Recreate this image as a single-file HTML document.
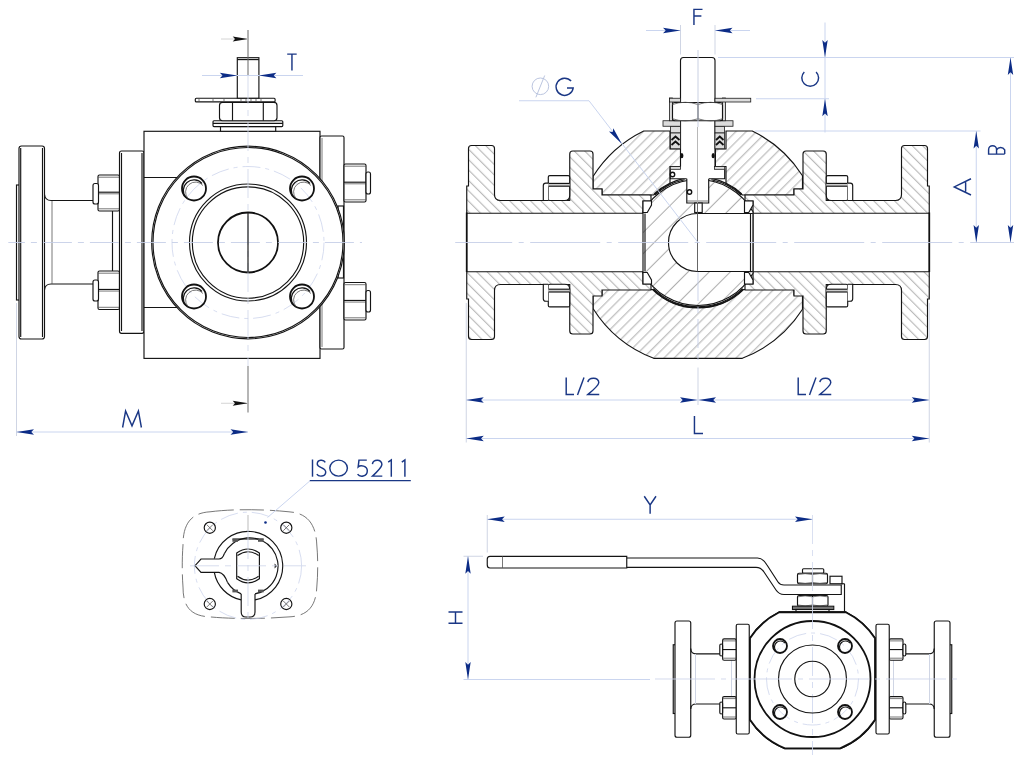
<!DOCTYPE html>
<html><head><meta charset="utf-8"><title>Valve drawing</title><style>
html,body{margin:0;padding:0;background:#fff;width:1024px;height:761px;overflow:hidden;font-family:"Liberation Sans",sans-serif}
svg{display:block}

.k{fill:none;stroke:#141414;stroke-width:1.15}
.kt{fill:none;stroke:#111;stroke-width:1.8}
.kw{fill:#fff;stroke:#141414;stroke-width:1.15}
.g{fill:none;stroke:#555;stroke-width:0.8}
.dim{fill:none;stroke:#cad5ef;stroke-width:1}
.ext{fill:none;stroke:#cfd5e4;stroke-width:1}
.cl{fill:none;stroke:#c3cce6;stroke-width:0.85;stroke-dasharray:29 6 6 6}
.clk{fill:none;stroke:#999;stroke-width:0.8;stroke-dasharray:22 4 4 4}
.bc{fill:none;stroke:#c5cfea;stroke-width:0.7;stroke-dasharray:18 5 4 5}
.ar{fill:#0c2c86;stroke:none}
.tx{fill:none;stroke:#1a3785;stroke-width:1.45;stroke-linecap:butt;stroke-linejoin:miter}
.h1{fill:url(#hA);stroke:#141414;stroke-width:1.15}
.h2{fill:url(#hB);stroke:#141414;stroke-width:1.15}
.h3{fill:url(#hC);stroke:#141414;stroke-width:1.15}
.h4{fill:url(#hD);stroke:#1a1a1a;stroke-width:0.8}

</style></head><body>
<svg width="1024" height="761" viewBox="0 0 1024 761"><defs>
<pattern id="hA" width="20" height="7.283" patternUnits="userSpaceOnUse" patternTransform="rotate(-45)"><rect width="20" height="7.283" fill="#fff"/><line x1="0" y1="1.676" x2="20" y2="1.676" stroke="#8e8e8e" stroke-width="0.75"/></pattern>
<pattern id="hB" width="20" height="7.354" patternUnits="userSpaceOnUse" patternTransform="rotate(45)"><rect width="20" height="7.354" fill="#fff"/><line x1="0" y1="2.12" x2="20" y2="2.12" stroke="#8e8e8e" stroke-width="0.75"/></pattern>
<pattern id="hC" width="20" height="14.92" patternUnits="userSpaceOnUse" patternTransform="rotate(-45)"><rect width="20" height="14.92" fill="#fff"/><line x1="0" y1="7.42" x2="20" y2="7.42" stroke="#8e8e8e" stroke-width="0.75"/></pattern>
<pattern id="hD" width="10" height="2" patternUnits="userSpaceOnUse" patternTransform="rotate(-45)"><rect width="10" height="2" fill="#fff"/><line x1="0" y1="1" x2="10" y2="1" stroke="#999" stroke-width="0.7"/></pattern>
</defs>
<rect class="k" x="16.5" y="185" width="3" height="115"/>
<rect class="kw" x="19" y="146" width="25.5" height="193" rx="2.5"/>
<line class="k" x1="20.7" y1="148" x2="20.7" y2="337"/>
<line class="k" x1="42.5" y1="148" x2="42.5" y2="337"/>
<path class="k" d="M44.5 194.5 Q45 200.5 51 200.5 L95 200.5"/>
<path class="k" d="M44.5 290 Q45 284 51 284 L95 284"/>
<line class="g" x1="52" y1="201" x2="52" y2="284"/>
<line class="k" x1="112.5" y1="211" x2="112.5" y2="271"/>
<rect class="kw" x="98" y="175" width="21.5" height="36" rx="1.5"/>
<line class="g" x1="98" y1="177.2" x2="119.5" y2="177.2"/>
<line class="k" x1="98" y1="192.2" x2="119.5" y2="192.2"/>
<line class="g" x1="98" y1="193.8" x2="119.5" y2="193.8"/>
<line class="g" x1="98" y1="208.8" x2="119.5" y2="208.8"/>
<rect class="kw" x="93" y="183.5" width="5.5" height="20.5" rx="2"/>
<rect class="kw" x="98" y="271" width="21.5" height="38.5" rx="1.5"/>
<line class="g" x1="98" y1="273.2" x2="119.5" y2="273.2"/>
<line class="k" x1="98" y1="289.45" x2="119.5" y2="289.45"/>
<line class="g" x1="98" y1="291.05" x2="119.5" y2="291.05"/>
<line class="g" x1="98" y1="307.3" x2="119.5" y2="307.3"/>
<rect class="kw" x="93" y="280" width="5.5" height="21" rx="2"/>
<rect class="kw" x="119.5" y="151" width="24.5" height="182.3" rx="2"/>
<line class="k" x1="121.5" y1="153" x2="121.5" y2="331"/>
<line class="k" x1="142" y1="153" x2="142" y2="331"/>
<rect class="kw" x="144" y="131.3" width="176" height="227.1"/>
<line class="k" x1="144" y1="177.5" x2="180" y2="177.5"/>
<line class="k" x1="144" y1="307.5" x2="180" y2="307.5"/>
<rect class="kw" x="320" y="136" width="24" height="213" rx="1.5"/>
<line class="g" x1="322" y1="138" x2="322" y2="347"/>
<rect class="k" x="338" y="206" width="5.5" height="72"/>
<rect class="kw" x="344" y="164" width="22" height="38" rx="1.5"/>
<line class="g" x1="344" y1="166.2" x2="366" y2="166.2"/>
<line class="k" x1="344" y1="182.2" x2="366" y2="182.2"/>
<line class="g" x1="344" y1="183.8" x2="366" y2="183.8"/>
<line class="g" x1="344" y1="199.8" x2="366" y2="199.8"/>
<rect class="kw" x="366" y="172" width="4.5" height="22" rx="2"/>
<rect class="kw" x="344" y="282.5" width="22" height="37.5" rx="1.5"/>
<line class="g" x1="344" y1="284.7" x2="366" y2="284.7"/>
<line class="k" x1="344" y1="300.45" x2="366" y2="300.45"/>
<line class="g" x1="344" y1="302.05" x2="366" y2="302.05"/>
<line class="g" x1="344" y1="317.8" x2="366" y2="317.8"/>
<rect class="kw" x="366" y="290.5" width="4.5" height="21.5" rx="2"/>
<circle class="kw" cx="248" cy="242.5" r="96.3"/>
<circle class="k" cx="248" cy="242.5" r="95"/>
<circle class="bc" cx="248" cy="242.5" r="76"/>
<circle class="k" cx="248" cy="242.5" r="58.5"/>
<circle class="k" cx="248" cy="242.5" r="55.7"/>
<circle class="kt" cx="248" cy="242.5" r="30"/>
<circle class="kt" cx="194" cy="188.5" r="12"/>
<path class="k" d="M186 197.5 A9 9 0 0 1 202 183.5"/>
<path class="g" d="M188 198.5 A8 8 0 0 1 203 185.5"/>
<circle class="kt" cx="194" cy="296.5" r="12"/>
<path class="k" d="M186 305.5 A9 9 0 0 1 202 291.5"/>
<path class="g" d="M188 306.5 A8 8 0 0 1 203 293.5"/>
<circle class="kt" cx="302" cy="188.5" r="12"/>
<path class="k" d="M294 197.5 A9 9 0 0 1 310 183.5"/>
<path class="g" d="M296 198.5 A8 8 0 0 1 311 185.5"/>
<circle class="kt" cx="302" cy="296.5" r="12"/>
<path class="k" d="M294 305.5 A9 9 0 0 1 310 291.5"/>
<path class="g" d="M296 306.5 A8 8 0 0 1 311 293.5"/>
<rect class="kw" x="220.5" y="126.5" width="55.2" height="4.8"/>
<rect class="kw" x="213" y="120.7" width="69.8" height="5.9" rx="1"/>
<line class="k" x1="213" y1="123.4" x2="282.8" y2="123.4"/>
<rect class="kw" x="219.5" y="102.4" width="57.5" height="18.3" rx="3"/>
<line class="k" x1="232.5" y1="102.4" x2="232.5" y2="120.7"/>
<line class="k" x1="263.3" y1="102.4" x2="263.3" y2="120.7"/>
<rect class="kw" x="195.3" y="98.2" width="79.8" height="3.7" rx="1"/>
<line class="g" x1="199" y1="98.5" x2="199" y2="101.6"/>
<line class="g" x1="213" y1="98.5" x2="213" y2="101.6"/>
<line class="g" x1="224" y1="98.5" x2="224" y2="101.6"/>
<line class="g" x1="241" y1="98.5" x2="241" y2="101.6"/>
<line class="g" x1="246" y1="98.5" x2="246" y2="101.6"/>
<line class="g" x1="251" y1="98.5" x2="251" y2="101.6"/>
<line class="g" x1="256" y1="98.5" x2="256" y2="101.6"/>
<line class="g" x1="261" y1="98.5" x2="261" y2="101.6"/>
<rect class="kw" x="237.3" y="57.7" width="21.6" height="40.5"/>
<line class="k" x1="237.3" y1="59.6" x2="258.9" y2="59.6"/>
<path class="h1" d="M593 189 L593 176.54 A124 124 0 0 1 643.74 131 L670 131 L670 149 L680.6 149 L680.6 166.5 L670 166.5 L670 183.8 A65 65 0 0 0 653.6 195 L602 195 L602 189 Z"/>
<path class="h1" d="M726 131 L752.26 131 A124 124 0 0 1 802.5 175.75 L802.5 189 L794 189 L794 195 L742.4 195 A65 65 0 0 0 726 183.8 L726 166.5 L715.4 166.5 L715.4 149 L726 149 Z"/>
<path class="h1" d="M593 295 L602 295 L602 289.5 L653.1 289.5 A65 65 0 0 0 742.9 289.5 L794 289.5 L794 295 L802.5 295 L802.5 309.25 A124 124 0 0 1 742.3 358.3 L653.7 358.3 A124 124 0 0 1 593 308.5 Z"/>
<path class="h2" d="M466.75 213.25 L466.75 186 L468.5 186 L468.5 148.5 Q468.5 145.5 471.5 145.5 L491.5 145.5 Q494.5 145.5 494.5 148.5 L494.5 194.5 Q494.5 200.5 500.5 200.5 L569.75 200.5 L569.75 154 Q569.75 151 572.75 151 L590 151 Q593 151 593 154 L593 189 L602 189 L602 195 L651 195 L651 201 L643 201 L643 213.25 Z"/>
<path class="h2" d="M 466.75 271.75 L 466.75 299 L 468.5 299 L 468.5 336.5 Q 468.5 339.5 471.5 339.5 L 491.5 339.5 Q 494.5 339.5 494.5 336.5 L 494.5 290.5 Q 494.5 284.5 500.5 284.5 L 569.75 284.5 L 569.75 331 Q 569.75 334 572.75 334 L 590 334 Q 593 334 593 331 L 593 296 L 602 296 L 602 290 L 651 290 L 651 284 L 643 284 L 643 271.75 Z"/>
<path class="h2" d="M 929.25 213.25 L 929.25 186 L 927.5 186 L 927.5 148.5 Q 927.5 145.5 924.5 145.5 L 904.5 145.5 Q 901.5 145.5 901.5 148.5 L 901.5 194.5 Q 901.5 200.5 895.5 200.5 L 826.25 200.5 L 826.25 154 Q 826.25 151 823.25 151 L 806 151 Q 803 151 803 154 L 803 189 L 794 189 L 794 195 L 745 195 L 745 201 L 753 201 L 753 213.25 Z"/>
<path class="h2" d="M 929.25 271.75 L 929.25 299 L 927.5 299 L 927.5 336.5 Q 927.5 339.5 924.5 339.5 L 904.5 339.5 Q 901.5 339.5 901.5 336.5 L 901.5 290.5 Q 901.5 284.5 895.5 284.5 L 826.25 284.5 L 826.25 331 Q 826.25 334 823.25 334 L 806 334 Q 803 334 803 331 L 803 296 L 794 296 L 794 290 L 745 290 L 745 284 L 753 284 L 753 271.75 Z"/>
<line class="kt" x1="466.75" y1="212.5" x2="466.75" y2="272"/>
<line class="kt" x1="929.25" y1="212.5" x2="929.25" y2="272"/>
<path class="kw" d="M549.8 175.6 L568.2 175.6 Q569.7 175.6 569.7 177.1 L569.7 195.5 Q569.7 200.5 564.7 200.5 L549.8 200.5 Q548.3 200.5 548.3 199 L548.3 177.1 Q548.3 175.6 549.8 175.6 Z"/>
<rect x="548.3" y="183.4" width="21.4" height="2.8" fill="#ccc"/>
<line class="k" x1="548.3" y1="183.4" x2="569.7" y2="183.4"/>
<line class="k" x1="548.3" y1="186.2" x2="569.7" y2="186.2"/>
<path class="kw" d="M548.3 200.5 L543.3 200.5 L543.3 185.6 Q543.3 183.1 545.8 183.1 L548.3 183.1"/>
<path class="kw" d="M549.8 284.2 L564.7 284.2 Q569.7 284.2 569.7 289.2 L569.7 305.4 Q569.7 306.9 568.2 306.9 L549.8 306.9 Q548.3 306.9 548.3 305.4 L548.3 285.7 Q548.3 284.2 549.8 284.2 Z"/>
<rect x="548.3" y="289.2" width="21.4" height="2.8" fill="#ccc"/>
<line class="k" x1="548.3" y1="289.2" x2="569.7" y2="289.2"/>
<line class="k" x1="548.3" y1="292" x2="569.7" y2="292"/>
<path class="kw" d="M548.3 284.2 L543.3 284.2 L543.3 298.7 Q543.3 301.2 545.8 301.2 L548.3 301.2"/>
<path class="kw" d="M827.8 175.6 L846.2 175.6 Q847.7 175.6 847.7 177.1 L847.7 199 Q847.7 200.5 846.2 200.5 L831.3 200.5 Q826.3 200.5 826.3 195.5 L826.3 177.1 Q826.3 175.6 827.8 175.6 Z"/>
<rect x="826.3" y="183.4" width="21.4" height="2.8" fill="#ccc"/>
<line class="k" x1="826.3" y1="183.4" x2="847.7" y2="183.4"/>
<line class="k" x1="826.3" y1="186.2" x2="847.7" y2="186.2"/>
<path class="kw" d="M847.7 200.5 L852.7 200.5 L852.7 185.6 Q852.7 183.1 850.2 183.1 L847.7 183.1"/>
<path class="kw" d="M831.3 284.2 L846.2 284.2 Q847.7 284.2 847.7 285.7 L847.7 305.4 Q847.7 306.9 846.2 306.9 L827.8 306.9 Q826.3 306.9 826.3 305.4 L826.3 289.2 Q826.3 284.2 831.3 284.2 Z"/>
<rect x="826.3" y="289.2" width="21.4" height="2.8" fill="#ccc"/>
<line class="k" x1="826.3" y1="289.2" x2="847.7" y2="289.2"/>
<line class="k" x1="826.3" y1="292" x2="847.7" y2="292"/>
<path class="kw" d="M847.7 284.2 L852.7 284.2 L852.7 298.7 Q852.7 301.2 850.2 301.2 L847.7 301.2"/>
<path class="h3" d="M643 211.8 A63 63 0 0 1 753 211.8 L753 273.2 A63 63 0 0 1 643 273.2 Z"/>
<path class="kw" d="M753 213.5 L697.5 213.5 A29 29 0 0 0 697.5 271.5 L753 271.5 Z"/>
<line class="g" x1="753" y1="213.5" x2="753" y2="271.5"/>
<path class="k" d="M655.04 194.79 A64.2 64.2 0 0 1 684.65 179.7"/>
<path class="k" d="M711.35 179.7 A64.2 64.2 0 0 1 740.96 194.79"/>
<path class="k" d="M742.6 288.68 A64.2 64.2 0 0 1 653.4 288.68"/>
<path class="k" d="M654.17 193.82 A65.5 65.5 0 0 1 684.38 178.43"/>
<path class="k" d="M711.62 178.43 A65.5 65.5 0 0 1 741.83 193.82"/>
<path class="k" d="M743.5 289.62 A65.5 65.5 0 0 1 652.5 289.62"/>
<path class="kw" d="M643 201 L651.5 201 L651.5 205 L647.25 212.5 L643 212.5 Z"/>
<path class="kw" d="M643 284 L651.5 284 L651.5 280 L647.25 272.5 L643 272.5 Z"/>
<path class="kw" d="M744.5 201 L753 201 L753 205 L748.75 212.5 L744.5 212.5 Z"/>
<path class="kw" d="M744.5 284 L753 284 L753 280 L748.75 272.5 L744.5 272.5 Z"/>
<line class="k" x1="645" y1="213.5" x2="645" y2="271.5"/>
<line class="k" x1="750.5" y1="213.5" x2="750.5" y2="271.5"/>
<rect x="680.5" y="57.5" width="34.5" height="112" rx="3" fill="#fff"/>
<path class="k" d="M680.5 166.5 L680.5 60.5 Q680.5 57.5 683.5 57.5 L712 57.5 Q715 57.5 715 60.5 L715 166.5"/>
<rect x="670.3" y="169.3" width="54.4" height="9.45" fill="#fff"/>
<path class="k" d="M670.3 169.3 L670.3 178.75 L686.8 178.75 M708.7 178.75 L724.7 178.75 L724.7 169.3"/>
<rect class="h4" x="670.3" y="166.5" width="10.2" height="2.8"/>
<rect class="h4" x="714.5" y="166.5" width="10.2" height="2.8"/>
<rect x="686.8" y="177" width="21.9" height="26" fill="#fff"/>
<path class="k" d="M686.8 178.75 L686.8 203 L708.7 203 L708.7 178.75"/>
<rect class="kw" x="694.7" y="203" width="7.5" height="9.5"/>
<line class="g" x1="687.2" y1="201" x2="708.75" y2="201"/>
<rect class="h4" x="670.5" y="126.25" width="10" height="6.75"/>
<rect class="h4" x="670.5" y="133" width="10" height="15.75"/>
<path class="kt" d="M671.5 140.0 L675.5 136.5 L679.5 140.0"/>
<path class="kt" d="M671.5 145.0 L675.5 141.5 L679.5 145.0"/>
<rect class="h4" x="715" y="126.25" width="9.5" height="6.75"/>
<rect class="h4" x="715" y="133" width="9.5" height="15.75"/>
<path class="kt" d="M716 140.0 L719.75 136.5 L723.5 140.0"/>
<path class="kt" d="M716 145.0 L719.75 141.5 L723.5 145.0"/>
<rect class="h4" x="663" y="120.75" width="17.5" height="5.5"/>
<rect class="h4" x="715" y="120.75" width="18" height="5.5"/>
<rect class="h4" x="669.5" y="98" width="3" height="22.75"/>
<rect class="h4" x="722.5" y="98" width="3" height="22.75"/>
<path class="kw" d="M672.5 104.5 Q672.5 102.5 675 102.5 L720 102.5 Q722.5 102.5 722.5 104.5 L722.5 118.75 Q722.5 120.75 720 120.75 L675 120.75 Q672.5 120.75 672.5 118.75 Z"/>
<path class="g" d="M672.5 104.5 Q685 100 698 104.5 Q711 100 722.5 104.5"/>
<path class="g" d="M672.5 118.75 Q685 123 698 118.75 Q711 123 722.5 118.75"/>
<line class="k" x1="698" y1="102.5" x2="698" y2="120.75"/>
<rect class="h4" x="715" y="98.25" width="35.75" height="3.75"/>
<rect class="h4" x="669.5" y="98.25" width="11" height="3.75"/>
<ellipse cx="681.8" cy="155.7" rx="1.6" ry="2.6" fill="#111"/>
<ellipse cx="713.2" cy="155.7" rx="1.6" ry="2.6" fill="#111"/>
<circle cx="672.5" cy="174.5" r="2.2" fill="#fff" stroke="#111" stroke-width="1.4"/>
<circle cx="689.5" cy="192" r="2.2" fill="#fff" stroke="#111" stroke-width="1.4"/>
<line x1="698" y1="50" x2="698" y2="127" stroke="#c9d0e2" stroke-width="1"/>
<line x1="697.5" y1="127" x2="697.5" y2="203" stroke="#b0b0b0" stroke-width="0.9"/>
<line x1="697.5" y1="203" x2="697.5" y2="271.5" stroke="#555" stroke-width="0.9"/>
<line class="cl" x1="698" y1="272" x2="698" y2="366"/>
<path class="g" d="M210 511.8 C232 509 262 509 289 511.8 C308 513 316 525 316.8 545 C318 558 318 574 316.8 587 C316 606 308 616 289 616.9 C262 619 232 619 210 616.9 C190 616 183 606 183 587 C182 574 182 558 183 545 C183 525 190 513 210 511.8 Z" stroke-dasharray="24 6" stroke="#777" stroke-width="0.65"/>
<circle class="bc" cx="248" cy="565.8" r="53.6"/>
<circle class="k" cx="209.8" cy="527.7" r="5.6"/>
<line class="g" x1="206.8" y1="524.7" x2="212.8" y2="530.7"/>
<line class="g" x1="206.8" y1="530.7" x2="212.8" y2="524.7"/>
<circle class="k" cx="286.3" cy="527.7" r="5.6"/>
<line class="g" x1="283.3" y1="524.7" x2="289.3" y2="530.7"/>
<line class="g" x1="283.3" y1="530.7" x2="289.3" y2="524.7"/>
<circle class="k" cx="209.8" cy="604" r="5.6"/>
<line class="g" x1="206.8" y1="601" x2="212.8" y2="607"/>
<line class="g" x1="206.8" y1="607" x2="212.8" y2="601"/>
<circle class="k" cx="286.3" cy="604" r="5.6"/>
<line class="g" x1="283.3" y1="601" x2="289.3" y2="607"/>
<line class="g" x1="283.3" y1="607" x2="289.3" y2="601"/>
<circle cx="248" cy="565.6" r="34.6" fill="#fff"/>
<path class="k" d="M214.3 558.7 A34.6 34.6 0 1 1 255 599.9"/>
<path class="k" d="M241.2 599.9 A34.6 34.6 0 0 1 214.3 572.4"/>
<path d="M221 559 L201 559 L195 565.7 L201 572.4 L221 572.4 Z" fill="#fff"/>
<path class="k" d="M224.3 553.7 Q222.5 559 219 559 L201 559 L195 565.7 L201 572.4 L219 572.4 Q224 573 227.5 582.4"/>
<path class="k" d="M224.3 553.7 A28.3 28.3 0 1 1 255 593.9"/>
<path class="k" d="M227.5 582.4 A28.3 28.3 0 0 0 241.2 593.9"/>
<rect x="241.2" y="594" width="13.8" height="20" fill="#fff"/>
<path class="k" d="M241.2 593.9 L241.2 612 Q241.2 617 246 617 L250.2 617 Q255 617 255 612 L255 593.9"/>
<line class="k" x1="232.4" y1="539" x2="263.7" y2="539"/>
<rect x="232.4" y="539" width="5.6" height="2.8" fill="#555"/>
<rect x="258" y="539" width="5.6" height="2.8" fill="#555"/>
<rect x="232.4" y="589.6" width="5.6" height="2.8" fill="#555"/>
<rect x="258" y="589.6" width="5.6" height="2.8" fill="#555"/>
<path class="kw" d="M236.7 553 Q248 545 259.4 553 L259.4 578.8 Q248 587 236.7 578.8 Z"/>
<path class="k" d="M237.5 555.5 Q248 548 258.6 555.5"/>
<path class="k" d="M237.5 576.3 Q248 584 258.6 576.3"/>
<path d="M274.6 563.5 L277 566 L274.6 568.5 Z" fill="#111"/>
<line class="dim" x1="310" y1="480.8" x2="267.5" y2="517.5"/>
<circle cx="265.5" cy="522.5" r="1.3" fill="#0c2c86"/>
<line x1="248" y1="515" x2="248" y2="530" stroke="#aaa" stroke-width="0.8"/>
<line x1="248" y1="530" x2="248" y2="618" class="cl" style="stroke:#cfd6ea"/>
<line x1="190" y1="565.8" x2="306" y2="565.8" class="cl" style="stroke:#cfd6ea"/>
<path class="kw" d="M626.75 558 L757.5 558 Q763 558 767 565 L778 582 Q780 585 784 585 L841.25 585 L841.25 594.5 L784 594.5 Q779 594.5 776 590 L764 572 Q761 567.3 756 567.3 L626.75 567.3"/>
<path class="kw" d="M626.75 556.3 L626.75 568 L490 568 Q487.25 568 487.25 565 L487.25 559.3 Q487.25 556.3 490 556.3 Z"/>
<line class="g" x1="502.5" y1="556.3" x2="502.5" y2="568"/>
<rect class="kw" x="802.5" y="568.75" width="21.25" height="4.5" rx="1"/>
<rect class="kw" x="797.5" y="573.25" width="30" height="10.5" rx="1.5"/>
<path class="g" d="M798 574.5 Q805 572.8 812.5 574.5 Q820 572.8 827 574.5 M798 582.5 Q805 584.2 812.5 582.5 Q820 584.2 827 582.5"/>
<line class="k" x1="812.5" y1="573.25" x2="812.5" y2="583.75"/>
<rect class="kw" x="830" y="576.25" width="12" height="7.5"/>
<line class="k" x1="844.5" y1="583.75" x2="844.5" y2="611.5"/>
<line class="k" x1="841.25" y1="583.75" x2="844.5" y2="583.75"/>
<rect class="kw" x="797.5" y="595.5" width="30.5" height="10.75" rx="1.5"/>
<path class="g" d="M798 596.8 Q805 595 812.5 596.8 Q820 595 827.5 596.8 M798 605 Q805 606.8 812.5 605 Q820 606.8 827.5 605"/>
<line class="k" x1="812.5" y1="595.5" x2="812.5" y2="606.25"/>
<rect class="kw" x="792.5" y="606.25" width="41.25" height="3.25"/>
<rect x="793" y="607" width="40" height="2" fill="#777"/>
<rect class="kw" x="796" y="609.5" width="33" height="2.75"/>
<rect class="k" x="673.25" y="644.75" width="2.25" height="68.75"/>
<rect class="kw" x="675" y="621" width="15.75" height="116.25" rx="2"/>
<path class="k" d="M690.75 648.5 Q691 653.9 696 653.9 L720 653.9"/>
<path class="k" d="M690.75 709 Q691 704 696 704 L720 704"/>
<line class="ext" x1="695.5" y1="654" x2="695.5" y2="704"/>
<line class="ext" x1="731.5" y1="660" x2="731.5" y2="696"/>
<rect class="kw" x="722.6" y="638.9" width="13.7" height="21.3" rx="1.5"/>
<line class="g" x1="722.6" y1="640.9" x2="736.3" y2="640.9"/>
<line class="k" x1="722.6" y1="649.55" x2="736.3" y2="649.55"/>
<line class="g" x1="722.6" y1="658.2" x2="736.3" y2="658.2"/>
<rect class="kw" x="719.8" y="644" width="2.8" height="12" rx="1.5"/>
<rect class="kw" x="722.6" y="696.6" width="13.7" height="22.4" rx="1.5"/>
<line class="g" x1="722.6" y1="698.6" x2="736.3" y2="698.6"/>
<line class="k" x1="722.6" y1="707.8" x2="736.3" y2="707.8"/>
<line class="g" x1="722.6" y1="717" x2="736.3" y2="717"/>
<rect class="kw" x="719.8" y="702" width="2.8" height="12" rx="1.5"/>
<rect class="kw" x="736.25" y="624.25" width="13" height="109.75" rx="1.5"/>
<rect class="k" x="949.5" y="644.75" width="2.25" height="68.75"/>
<rect class="kw" x="934.25" y="621" width="15.75" height="116.25" rx="2"/>
<path class="k" d="M934.25 648.5 Q934 653.9 929 653.9 L905 653.9"/>
<path class="k" d="M934.25 709 Q934 704 929 704 L905 704"/>
<line class="ext" x1="929.5" y1="654" x2="929.5" y2="704"/>
<line class="ext" x1="893.5" y1="660" x2="893.5" y2="696"/>
<rect class="kw" x="889.25" y="638.9" width="13.75" height="21.3" rx="1.5"/>
<line class="g" x1="889.25" y1="640.9" x2="903" y2="640.9"/>
<line class="k" x1="889.25" y1="649.55" x2="903" y2="649.55"/>
<line class="g" x1="889.25" y1="658.2" x2="903" y2="658.2"/>
<rect class="kw" x="903" y="644" width="2.8" height="12" rx="1.5"/>
<rect class="kw" x="889.25" y="696.6" width="13.75" height="22.4" rx="1.5"/>
<line class="g" x1="889.25" y1="698.6" x2="903" y2="698.6"/>
<line class="k" x1="889.25" y1="707.8" x2="903" y2="707.8"/>
<line class="g" x1="889.25" y1="717" x2="903" y2="717"/>
<rect class="kw" x="903" y="702" width="2.8" height="12" rx="1.5"/>
<rect class="kw" x="876" y="624.25" width="13.25" height="109.75" rx="1.5"/>
<path class="kt" d="M779.2 612.25 L845.8 612.25 A74.6 74.6 0 0 1 875 638.3 L875 719.7 A74.6 74.6 0 0 1 840.1 748.3 L784.9 748.3 A74.6 74.6 0 0 1 750 719.7 L750 638.3 A74.6 74.6 0 0 1 779.2 612.25 Z"/>
<path d="M779.2 612.25 L845.8 612.25 A74.6 74.6 0 0 1 875 638.3 L875 719.7 A74.6 74.6 0 0 1 840.1 748.3 L784.9 748.3 A74.6 74.6 0 0 1 750 719.7 L750 638.3 A74.6 74.6 0 0 1 779.2 612.25 Z" fill="#fff" stroke="none"/>
<path class="kt" d="M779.2 612.25 L845.8 612.25 A74.6 74.6 0 0 1 875 638.3 L875 719.7 A74.6 74.6 0 0 1 840.1 748.3 L784.9 748.3 A74.6 74.6 0 0 1 750 719.7 L750 638.3 A74.6 74.6 0 0 1 779.2 612.25 Z"/>
<circle class="kt" cx="812.5" cy="679" r="58"/>
<circle class="bc" cx="812.5" cy="679" r="46"/>
<line x1="812.5" y1="600" x2="812.5" y2="755" class="cl" style="stroke:#cfd7ee"/>
<circle class="k" cx="812.5" cy="679" r="34"/>
<circle class="k" cx="812.5" cy="679" r="17.75"/>
<circle class="kt" cx="780" cy="646" r="7"/>
<path class="k" d="M776 651 A5 5 0 0 1 785 643"/>
<circle class="kt" cx="780" cy="712" r="7"/>
<path class="k" d="M776 717 A5 5 0 0 1 785 709"/>
<circle class="kt" cx="845" cy="646" r="7"/>
<path class="k" d="M841 651 A5 5 0 0 1 850 643"/>
<circle class="kt" cx="845" cy="712" r="7"/>
<path class="k" d="M841 717 A5 5 0 0 1 850 709"/>
<line x1="8.3" y1="242.5" x2="362" y2="242.5" class="cl" style="stroke-dashoffset:12.4"/>
<line x1="248" y1="75" x2="248" y2="366" class="cl" style="stroke:#d0d7ea"/>
<line x1="248" y1="30" x2="248" y2="75.2" stroke="#666" stroke-width="1"/>
<line x1="455.2" y1="242.5" x2="1014" y2="242.5" class="cl" style="stroke-dasharray:70 6.5 5 6.5;stroke-dashoffset:13"/>
<line x1="655" y1="679" x2="958" y2="679" class="cl" style="stroke-dasharray:60 6 5 6;stroke:#ccd3ea"/>
<line x1="812.5" y1="515" x2="812.5" y2="600" class="cl" style="stroke:#d3daef"/>
<line x1="221" y1="39" x2="248" y2="39" stroke="#d4d4d4" stroke-width="1"/>
<path fill="#111" transform="translate(248 39)" d="M0 0 L-15.3 -2.6 L-13 0 L-15.3 2.6 Z"/>
<line x1="248" y1="366" x2="248" y2="412.5" stroke="#7a7a7a" stroke-width="1.1"/>
<line x1="221" y1="403.25" x2="248" y2="403.25" stroke="#d4d4d4" stroke-width="1"/>
<path fill="#111" transform="translate(248 403.25)" d="M0 0 L-15.3 -2.6 L-13 0 L-15.3 2.6 Z"/>
<line class="dim" x1="202" y1="75.5" x2="303" y2="75.5"/>
<path class="ar" transform="translate(237.3 75.5) rotate(0)" d="M0 0 L-17.5 -2.7 L-14.8 0 L-17.5 2.7 Z"/>
<path class="ar" transform="translate(258.9 75.5) rotate(180)" d="M0 0 L-17.5 -2.7 L-14.8 0 L-17.5 2.7 Z"/>
<path class="tx" d="M287.2 54.1 H296.7 M291.95 53.5 V70.5"/>
<line class="ext" x1="16.5" y1="303" x2="16.5" y2="436"/>
<line class="dim" x1="16.5" y1="432" x2="248" y2="432"/>
<path class="ar" transform="translate(16.5 432) rotate(180)" d="M0 0 L-17.5 -2.7 L-14.8 0 L-17.5 2.7 Z"/>
<path class="ar" transform="translate(248 432) rotate(0)" d="M0 0 L-17.5 -2.7 L-14.8 0 L-17.5 2.7 Z"/>
<path class="tx" d="M122.6 427.5 L125.6 411 L132 425.85 L138.4 411 L141.4 427.5"/>
<line class="ext" x1="680.5" y1="25" x2="680.5" y2="54.5"/>
<line class="ext" x1="715" y1="25" x2="715" y2="54.5"/>
<line class="dim" x1="646" y1="30.5" x2="680.5" y2="30.5"/>
<line class="dim" x1="715" y1="30.5" x2="750" y2="30.5"/>
<path class="ar" transform="translate(680.5 30.5) rotate(0)" d="M0 0 L-17.5 -2.7 L-14.8 0 L-17.5 2.7 Z"/>
<path class="ar" transform="translate(715 30.5) rotate(180)" d="M0 0 L-17.5 -2.7 L-14.8 0 L-17.5 2.7 Z"/>
<path class="tx" d="M693.95 25 V9.35 H702.5 M693.95 16.06 H701.39"/>
<line class="dim" x1="718" y1="57.5" x2="1014" y2="57.5"/>
<line class="dim" x1="756" y1="98.75" x2="829" y2="98.75"/>
<line class="dim" x1="755" y1="131" x2="980.5" y2="131"/>
<line class="dim" x1="825" y1="22.5" x2="825" y2="132.5"/>
<path class="ar" transform="translate(825 57.5) rotate(90)" d="M0 0 L-17.5 -2.7 L-14.8 0 L-17.5 2.7 Z"/>
<path class="ar" transform="translate(825 98.75) rotate(-90)" d="M0 0 L-17.5 -2.7 L-14.8 0 L-17.5 2.7 Z"/>
<path class="tx" d="M804.3 71.9 A8.4 8.4 0 1 0 816.1 71.9"/>
<line class="dim" x1="976.25" y1="131" x2="976.25" y2="242.5"/>
<path class="ar" transform="translate(976.25 131) rotate(-90)" d="M0 0 L-17.5 -2.7 L-14.8 0 L-17.5 2.7 Z"/>
<path class="ar" transform="translate(976.25 242.5) rotate(90)" d="M0 0 L-17.5 -2.7 L-14.8 0 L-17.5 2.7 Z"/>
<path class="tx" transform="rotate(-90 962.62 186.88)" d="M954.5 195.25 L962.62 178.5 L970.75 195.25 M958.08 189.89 H967.17"/>
<line class="dim" x1="1010.5" y1="57.5" x2="1010.5" y2="242.5"/>
<path class="ar" transform="translate(1010.5 57.5) rotate(-90)" d="M0 0 L-17.5 -2.7 L-14.8 0 L-17.5 2.7 Z"/>
<path class="ar" transform="translate(1010.5 242.5) rotate(90)" d="M0 0 L-17.5 -2.7 L-14.8 0 L-17.5 2.7 Z"/>
<path class="tx" transform="rotate(-90 996.65 150)" d="M992.55 158.05 V141.95 H996.97 A3.98 3.98 0 0 1 996.97 149.91 H992.55 M996.78 149.91 A4.67 4.67 0 0 1 996.78 158.05 H992.55"/>
<line class="dim" x1="519" y1="100.75" x2="589" y2="100.75"/>
<line class="dim" x1="589" y1="100.75" x2="698" y2="242.5"/>
<path class="ar" transform="translate(621.75 143.75) rotate(52.7)" d="M0 0 L-17.5 -2.7 L-14.8 0 L-17.5 2.7 Z"/>
<g fill="none" stroke="#b3bedb" stroke-width="0.9"><circle cx="540.4" cy="86.3" r="8.3"/><line x1="535.9" y1="97.3" x2="544.7" y2="75.5"/></g>
<path class="tx" d="M571.1 81.05 A8.6 8.6 0 1 0 573.2 88 L567 88"/>
<line class="ext" x1="466.25" y1="303" x2="466.25" y2="442.5"/>
<line class="ext" x1="929.25" y1="303" x2="929.25" y2="442.5"/>
<line class="ext" x1="698" y1="367.5" x2="698" y2="405"/>
<line class="dim" x1="466.25" y1="400" x2="929.25" y2="400"/>
<path class="ar" transform="translate(466.25 400) rotate(180)" d="M0 0 L-17.5 -2.7 L-14.8 0 L-17.5 2.7 Z"/>
<path class="ar" transform="translate(697.5 400) rotate(0)" d="M0 0 L-17.5 -2.7 L-14.8 0 L-17.5 2.7 Z"/>
<path class="ar" transform="translate(698.5 400) rotate(180)" d="M0 0 L-17.5 -2.7 L-14.8 0 L-17.5 2.7 Z"/>
<path class="ar" transform="translate(929.25 400) rotate(0)" d="M0 0 L-17.5 -2.7 L-14.8 0 L-17.5 2.7 Z"/>
<path class="tx" d="M566.2 377.5 V394.4 H574"/>
<path class="tx" d="M584 377.5 L577.5 395"/>
<path class="tx" d="M587.85 382.23 C588.67 376.8 599.01 376.8 598.78 382.75 C598.54 384.85 596.9 387.12 587.97 394.4 H599.25"/>
<path class="tx" d="M798.2 377.5 V394.4 H806"/>
<path class="tx" d="M816 377.5 L809.5 395"/>
<path class="tx" d="M819.85 382.23 C820.67 376.8 831.01 376.8 830.78 382.75 C830.54 384.85 828.9 387.12 819.97 394.4 H831.25"/>
<line class="dim" x1="466.25" y1="438.5" x2="929.25" y2="438.5"/>
<path class="ar" transform="translate(466.25 438.5) rotate(180)" d="M0 0 L-17.5 -2.7 L-14.8 0 L-17.5 2.7 Z"/>
<path class="ar" transform="translate(929.25 438.5) rotate(0)" d="M0 0 L-17.5 -2.7 L-14.8 0 L-17.5 2.7 Z"/>
<path class="tx" d="M694.45 416 V433.4 H703"/>
<line class="ext" x1="487.25" y1="515" x2="487.25" y2="552.5"/>
<line class="dim" x1="487.25" y1="519.25" x2="812.5" y2="519.25"/>
<path class="ar" transform="translate(487.25 519.25) rotate(180)" d="M0 0 L-17.5 -2.7 L-14.8 0 L-17.5 2.7 Z"/>
<path class="ar" transform="translate(812.5 519.25) rotate(0)" d="M0 0 L-17.5 -2.7 L-14.8 0 L-17.5 2.7 Z"/>
<path class="tx" d="M644.25 496.25 L650.12 505 L656 496.25 M650.12 505 V513.75"/>
<line class="ext" x1="463.5" y1="556.25" x2="483" y2="556.25"/>
<line class="dim" x1="463.5" y1="679.5" x2="650" y2="679.5"/>
<line class="dim" x1="468" y1="556.25" x2="468" y2="679.5"/>
<path class="ar" transform="translate(468 556.25) rotate(-90)" d="M0 0 L-17.5 -2.7 L-14.8 0 L-17.5 2.7 Z"/>
<path class="ar" transform="translate(468 679.5) rotate(90)" d="M0 0 L-17.5 -2.7 L-14.8 0 L-17.5 2.7 Z"/>
<path class="tx" transform="rotate(-90 455.5 617.62)" d="M449.82 610.62 V624.62 M461.18 610.62 V624.62 M449.12 617.62 H461.88"/>
<path class="tx" d="M312.5 459.5 V476.7"/>
<path class="tx" d="M325.26 462.42 C323.7 459.16 317.26 459.5 317.26 463.97 C317.26 468.1 325.72 467.24 325.72 472.06 C325.72 477.04 318.64 477.04 316.8 474.12"/>
<path class="tx" d="M329.8 468.1 A8.8 8 0 1 0 347.4 468.1 A8.8 8 0 1 0 329.8 468.1"/>
<path class="tx" d="M366.81 460.1 H358.96 L358.18 466.9 C360.51 464.66 367.3 465.69 367.3 470.85 C367.3 477.22 359.54 477.22 357.6 474.12"/>
<path class="tx" d="M372.41 464.14 C373.12 458.81 382.1 458.81 381.89 464.66 C381.69 466.72 380.26 468.96 372.51 476.1 H382.3"/>
<path class="tx" d="M388.2 462.08 L391.3 459.9 V476.7"/>
<path class="tx" d="M401.8 462.08 L404.9 459.9 V476.7"/>
<line class="tx" x1="309.8" y1="480.6" x2="410.8" y2="480.6"/>
<line class="k" x1="248" y1="212.5" x2="248" y2="272.5"/>
</svg>
</body></html>
